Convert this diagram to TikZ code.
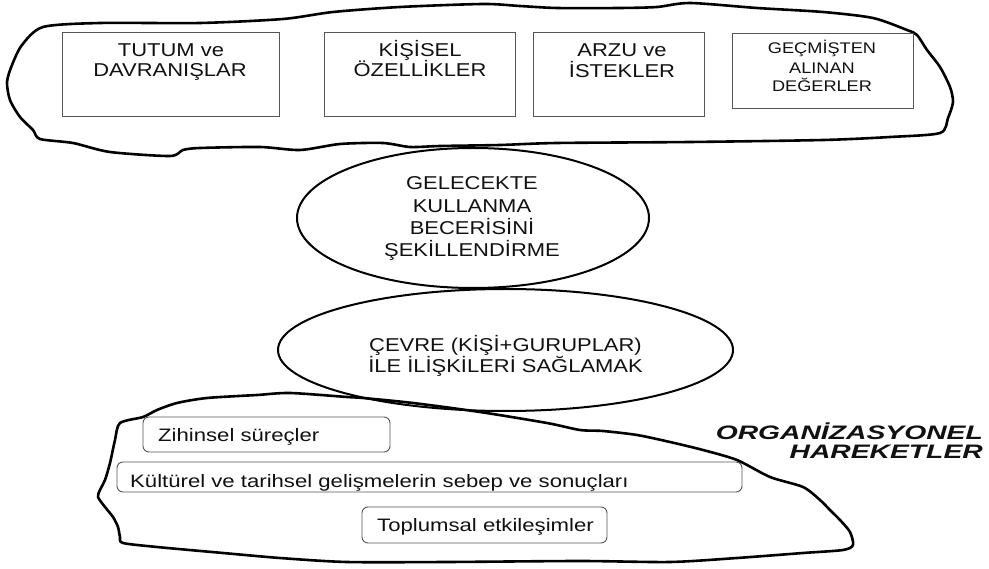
\documentclass[tikz,border=0pt]{standalone}
\usepackage{fontspec}
\setmainfont{Liberation Sans}
\newfontfamily\fA{Liberation Sans}[FakeStretch=1.18]
\newfontfamily\fB{Liberation Sans}[FakeStretch=1.23]
\newfontfamily\fC{Liberation Sans}[FakeStretch=1.45]
\usetikzlibrary{shapes.geometric}
\definecolor{boxline}{HTML}{555555}
\definecolor{ink}{HTML}{111111}
\tikzset{
  blob/.style={line width=2.6pt, line join=round},
  topbox/.style={draw=boxline, line width=0.9pt, rectangle, inner sep=0pt},
  roundbox/.style={draw=boxline, line width=0.9pt, rectangle, rounded corners=6pt, inner sep=0pt},
  oval/.style={draw, ellipse, line width=2pt, inner sep=0pt},
  bigtxt/.style={font=\fA\fontsize{18.6}{20}\selectfont, text=ink, anchor=base, inner sep=0pt},
  smalltxt/.style={font=\fA\fontsize{15.4}{18}\selectfont, text=ink, anchor=base, inner sep=0pt},
  itemtxt/.style={font=\fB\fontsize{18}{20}\selectfont, text=ink, anchor=base west, inner sep=0pt},
  orgtxt/.style={font=\fC\bfseries\itshape\fontsize{19.5}{20}\selectfont, text=ink, anchor=base east, inner sep=0pt}
}
\begin{document}
\begin{tikzpicture}[x=1pt,y=-1pt]
\fill[white] (0,0) rectangle (989,569);
\useasboundingbox (0,0) rectangle (989,569);

% top blob
\draw[blob] plot[smooth cycle, tension=0.45] coordinates {
(43,27) (100,23) (200,23) (283,19) (333,12) (400,7) (483,4) (520,6) (557,8) (620,8) (657,7) (690,3)
(757,8) (823,12) (873,18) (907,30) (917,35) (927,50) (940,67) (950,87) (953,102) (948,118) (940,133)
(890,137) (823,140) (690,142) (557,143) (500,145) (440,146) (410,147) (383,143) (340,144) (300,150)
(260,147) (200,148) (183,150) (170,156) (110,152) (73,143) (40,139) (33,130) (20,117) (10,100) (7,82)
(12,65) (22,45)};

% top boxes
\node[topbox, minimum width=217pt, minimum height=84pt] (b1) at (170.5,74) {};
\node[topbox, minimum width=191pt, minimum height=84pt] (b2) at (419.5,74) {};
\node[topbox, minimum width=171pt, minimum height=84pt] (b3) at (618.5,74) {};
\node[topbox, minimum width=181pt, minimum height=75pt] (b4) at (822.5,70.5) {};

\node[bigtxt] (b1a) at (171,57) {TUTUM ve};
\node[bigtxt] (b1b) at (170,77) {DAVRANIŞLAR};
\node[bigtxt] (b2a) at (420,57) {KİŞİSEL};
\node[bigtxt] (b2b) at (420,77) {ÖZELLİKLER};
\node[bigtxt] (b3a) at (622,57) {ARZU ve};
\node[bigtxt] (b3b) at (622,78) {İSTEKLER};
\node[smalltxt] (b4a) at (822,54) {GEÇMİŞTEN};
\node[smalltxt] (b4b) at (822,73.5) {ALINAN};
\node[smalltxt] (b4c) at (822,92) {DEĞERLER};

% ellipses
\node[oval, minimum width=352pt, minimum height=140pt] (e1) at (473,218) {};
\node[bigtxt] (e1a) at (472,190) {GELECEKTE};
\node[bigtxt] (e1b) at (472,212.7) {KULLANMA};
\node[bigtxt] (e1c) at (472,235) {BECERİSİNİ};
\node[bigtxt] (e1d) at (472,256.7) {ŞEKİLLENDİRME};

\node[oval, minimum width=455pt, minimum height=122pt] (e2) at (505.5,350) {};
\node[bigtxt] (e2a) at (505.5,352) {ÇEVRE (KİŞİ+GURUPLAR)};
\node[bigtxt] (e2b) at (505.5,372.7) {İLE İLİŞKİLERİ SAĞLAMAK};

% bottom blob
\draw[blob] plot[smooth cycle, tension=0.45] coordinates {
(120,423) (143,417) (157,410) (177,403) (207,398) (257,395) (290,393) (347,397) (363,398) (413,403)
(480,412) (547,423) (580,430) (603,431) (637,435) (670,442) (703,450) (737,460) (770,477) (803,487)
(820,500) (830,510) (840,520) (850,532) (853,545) (843,550) (803,553) (737,558) (670,562) (580,561)
(447,562) (347,562) (280,558) (223,553) (157,547) (123,543) (120,537) (118,527) (113,517) (105,507)
(98,497) (100,490) (105,480) (110,463) (115,440)};

% bottom boxes
\node[roundbox, minimum width=247pt, minimum height=35pt] (r1) at (266.5,434.5) {};
\node[roundbox, minimum width=625pt, minimum height=30pt] (r2) at (429.5,477) {};
\node[roundbox, minimum width=245pt, minimum height=36pt] (r3) at (484.5,525) {};
\node[itemtxt] (r1t) at (158,442) {Zihinsel süreçler};
\node[itemtxt] (r2t) at (130,487) {Kültürel ve tarihsel gelişmelerin sebep ve sonuçları};
\node[itemtxt] (r3t) at (377,531.7) {Toplumsal etkileşimler};

% label
\node[orgtxt] (o1) at (983,439.3) {ORGANİZASYONEL};
\node[orgtxt] (o2) at (983,458.3) {HAREKETLER};
\end{tikzpicture}
\end{document}
